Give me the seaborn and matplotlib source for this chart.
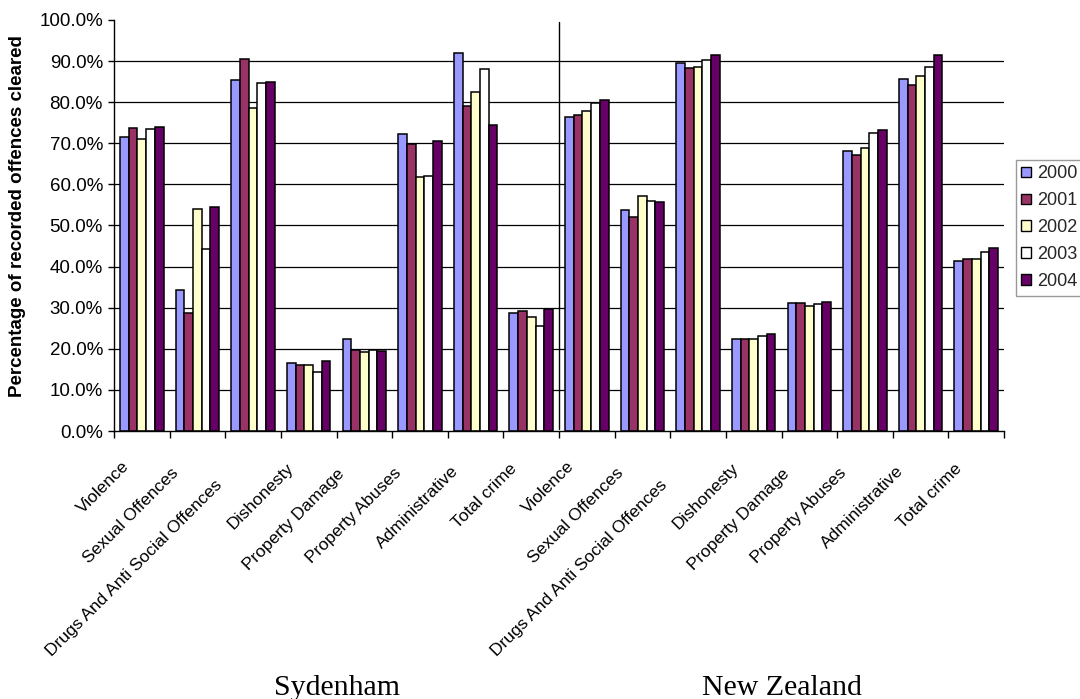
import numpy as np
import pandas as pd
import seaborn as sns
import matplotlib
matplotlib.use("Agg")
import matplotlib.pyplot as plt
from matplotlib import transforms
from matplotlib.font_manager import FontProperties

# Clearance rates (% of recorded offences cleared) by offence group and year
regions = ["Sydenham", "New Zealand"]
offences = ["Violence", "Sexual Offences", "Drugs And Anti Social Offences",
            "Dishonesty", "Property Damage", "Property Abuses",
            "Administrative", "Total crime"]
years = ["2000", "2001", "2002", "2003", "2004"]

syd_2000 = [71.6, 34.3, 85.5, 16.5, 22.4, 72.2, 91.9, 28.8]
syd_2001 = [73.8, 28.8, 90.6, 16.1, 19.7, 69.8, 79.1, 29.2]
syd_2002 = [71.0, 54.0, 78.6, 16.1, 19.3, 61.8, 82.5, 27.8]
syd_2003 = [73.4, 44.4, 84.7, 14.4, 19.7, 62.0, 88.0, 25.6]
syd_2004 = [74.0, 54.4, 84.8, 17.0, 19.4, 70.5, 74.5, 29.7]

nz_2000 = [76.5, 53.7, 89.5, 22.5, 31.2, 68.2, 85.7, 41.4]
nz_2001 = [77.0, 52.1, 88.2, 22.5, 31.1, 67.2, 84.3, 41.9]
nz_2002 = [77.8, 57.1, 88.6, 22.4, 30.3, 68.9, 86.3, 41.9]
nz_2003 = [79.9, 56.0, 90.3, 23.1, 31.0, 72.5, 88.6, 43.6]
nz_2004 = [80.5, 55.8, 91.6, 23.7, 31.4, 73.2, 91.4, 44.5]

year_colors = ["#9999FF", "#993366", "#FFFFCC", "#FFFFFF", "#660066"]

series = {
    "Sydenham": [syd_2000, syd_2001, syd_2002, syd_2003, syd_2004],
    "New Zealand": [nz_2000, nz_2001, nz_2002, nz_2003, nz_2004],
}

rows = []
slots = []
for region in regions:
    for j, off in enumerate(offences):
        slot = f"{region}: {off}"
        slots.append(slot)
        for k, yr in enumerate(years):
            rows.append({"slot": slot, "year": yr, "value": series[region][k][j]})
df = pd.DataFrame(rows)

sns.set_style("white")
plt.rcParams["font.family"] = ["Liberation Sans", "DejaVu Sans"]

DPI = 100
fig = plt.figure(figsize=(10.8, 6.99), dpi=DPI)
ax = fig.add_axes([114 / 1080, 1 - 431 / 699, 890 / 1080, 411 / 699])

# Horizontal gridlines behind the bars
for v in range(10, 100, 10):
    ax.axhline(v, color="black", lw=0.9, zorder=0)

sns.barplot(data=df, x="slot", y="value", hue="year", order=slots,
            hue_order=years, palette=year_colors, saturation=1, width=0.78,
            edgecolor="black", linewidth=1.1, errorbar=None, ax=ax, zorder=2)

ax.set_xlim(-0.5, len(slots) - 0.5)
ax.set_ylim(0, 100)

for side in ["top", "right"]:
    ax.spines[side].set_visible(False)
for side in ["left", "bottom"]:
    ax.spines[side].set_color("black")
    ax.spines[side].set_linewidth(1.0)

# Y axis
yt = np.arange(0, 101, 10)
ax.set_yticks(yt, labels=[f"{v:.1f}%" for v in yt])
ax.tick_params(axis="y", direction="out", length=4, width=1, color="black",
               pad=4, labelsize=13.5, labelcolor="black", left=True)
ax.set_ylabel("Percentage of recorded offences cleared", fontsize=13.5,
              fontweight="bold", color="black")
ax.yaxis.set_label_coords(-0.099, 0.523)

# X axis: ticks between categories, rotated names under each group
ax.set_xticks(np.arange(len(slots)), labels=[""] * len(slots))
ax.tick_params(axis="x", which="major", length=0)
ax.set_xticks(np.arange(-0.5, len(slots), 1.0), minor=True)
ax.tick_params(axis="x", which="minor", direction="out", length=5, width=1,
               color="black", bottom=True)
ax.set_xlabel("")

LABEL_SIZE = 12.5
renderer = fig.canvas.get_renderer()
label_prop = FontProperties(family=["Liberation Sans"], size=LABEL_SIZE)
diag = np.sqrt(0.5)
for i, slot in enumerate(slots):
    name = slot.split(": ", 1)[1]
    w, _, _ = renderer.get_text_width_height_descent(name, label_prop, ismath=False)
    # longer names sit a little further down along their own slant
    s = 10 - 0.15 * w
    dx = -15 + s * diag
    dy = -33 + s * diag
    tr = ax.get_xaxis_transform() + transforms.ScaledTranslation(
        dx / DPI, dy / DPI, fig.dpi_scale_trans)
    ax.text(i, 0, name, transform=tr, rotation=45, rotation_mode="anchor",
            ha="right", va="center", fontproperties=label_prop, color="black")

# Divider between the two regions
ax.axvline(len(offences) - 0.5, ymin=0.005, ymax=0.995, color="black", lw=1.0,
           zorder=3)

# Region names under each half
title_tr = transforms.blended_transform_factory(ax.transData, fig.transFigure)
for r, region in enumerate(regions):
    cx = r * len(offences) + (len(offences) - 1) / 2
    fig.text(cx, 1 - 695 / 699, region, transform=title_tr, ha="center",
             va="baseline", fontsize=21.5, family="Liberation Serif",
             color="black")

# Legend
handles, labels = ax.get_legend_handles_labels()
leg = ax.legend(handles, labels, loc="upper left",
                bbox_to_anchor=(1016 / 1080, 1 - 160 / 699),
                bbox_transform=fig.transFigure, fontsize=13, frameon=True,
                fancybox=False, shadow=False, borderpad=0.3,
                labelspacing=0.55, handlelength=0.55, handleheight=0.55,
                handletextpad=0.3, borderaxespad=0)
leg.get_frame().set_edgecolor("#808080")
leg.get_frame().set_linewidth(1.0)
leg.get_frame().set_facecolor("white")
for h in leg.legend_handles:
    h.set_edgecolor("black")
    h.set_linewidth(1.0)

fig.savefig("out.png", dpi=DPI, facecolor="white")
